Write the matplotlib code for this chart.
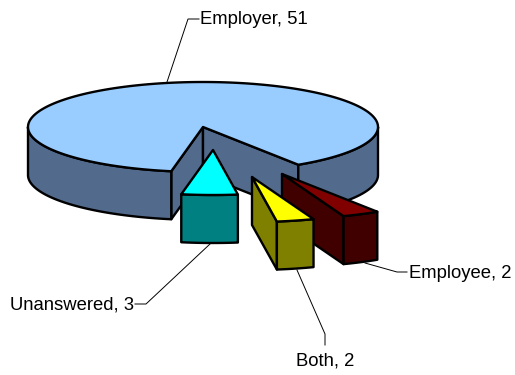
import numpy as np
import matplotlib
matplotlib.use('Agg')
import matplotlib.pyplot as plt
from matplotlib.patches import Polygon

plt.rcParams['font.family'] = ['Liberation Sans', 'DejaVu Sans']

labels = ['Employee', 'Both', 'Unanswered', 'Employer']
values = [2, 2, 3, 51]
topColors = ['#800000', '#FFFF00', '#00FFFF', '#99CCFF']
sideColors = ['#400000', '#808000', '#008080', '#526A8C']
# how far each slice is pulled out of the pie, in pixels
explodeX = [79, 49, 10, 0]
explodeY = [47, 50, 23, 0]

# leader line of each label and where the text sits
leaderX = [[365, 397, 407], [297, 325, 325], [210, 146, 135], [167, 188, 199]]
leaderY = [[263, 272, 272], [270, 334, 345], [244, 304, 304], [82, 19, 19]]
textX = [409, 296, 134, 200]
textY = [273.5, 361.5, 305.5, 19.5]
textAlign = ['left', 'left', 'right', 'left']

centerX, centerY = 203, 127
radiusX, radiusY = 175, 45
depth = 48
startAngle = 57


def rim(cx, cy, t1, t2):
    t = np.radians(np.linspace(t1, t2, max(int(abs(t2 - t1)) * 2, 2)))
    return np.column_stack([cx + radiusX * np.cos(t), cy + radiusY * np.sin(t)])


def add_poly(ax, points, color):
    ax.add_patch(Polygon(points, closed=True, facecolor=color, edgecolor='black',
                         linewidth=1.7, joinstyle='round'))


def draw_slice(ax, cx, cy, t1, t2, top, side):
    down = np.array([0, depth])
    apex = np.array([[cx, cy]])
    # side walls towards the viewer only
    for t, show in ((t1, np.cos(np.radians(t1)) < 0), (t2, np.cos(np.radians(t2)) > 0)):
        if show:
            edge = rim(cx, cy, t, t)[:1]
            add_poly(ax, np.vstack([apex, edge, edge + down, apex + down]), side)
    for lo, hi in ((0, 180), (360, 540)):
        a, b = max(t1, lo), min(t2, hi)
        if a < b:
            arc = rim(cx, cy, a, b)
            add_poly(ax, np.vstack([arc, (arc + down)[::-1]]), side)
    add_poly(ax, np.vstack([apex, rim(cx, cy, t1, t2)]), top)


fig = plt.figure(figsize=(5.15, 3.75), dpi=100)
ax = fig.add_axes([0, 0, 1, 1])
ax.set_xlim(0, 515)
ax.set_ylim(375, 0)
ax.axis('off')

# Employer goes first, the pulled out slices sit on top of it
angles = startAngle + np.cumsum([0] + values) / sum(values) * 360
for i in [3, 0, 1, 2]:
    draw_slice(ax, centerX + explodeX[i], centerY + explodeY[i], angles[i], angles[i + 1],
               topColors[i], sideColors[i])

for i in range(len(labels)):
    ax.plot(leaderX[i], leaderY[i], color='black', linewidth=0.7)
    ax.text(textX[i], textY[i], '%s, %d' % (labels[i], values[i]), fontsize=13.3,
            ha=textAlign[i], va='center', color='black')

fig.savefig('out.png', dpi=100)
